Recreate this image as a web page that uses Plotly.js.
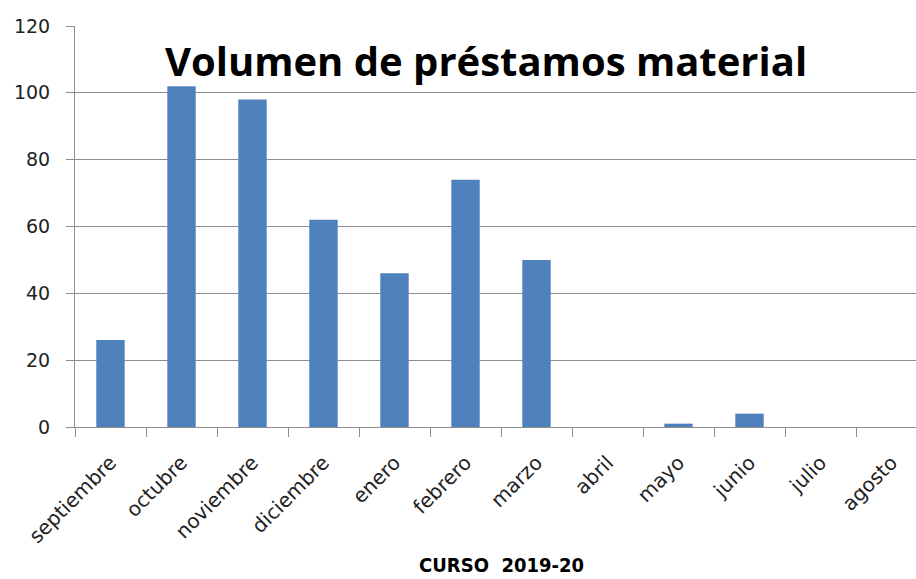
<!DOCTYPE html>
<html><head><meta charset="utf-8">
<script src="https://cdn.plot.ly/plotly-3.0.1.min.js"></script>
<style>html,body{margin:0;padding:0;overflow:hidden;background:#fff;}#chart{width:930px;height:579px;}</style>
</head><body><div id="chart"></div>
<script>
const months = ["septiembre","octubre","noviembre","diciembre","enero","febrero","marzo","abril","mayo","junio","julio","agosto"];
const loans = [26,102,98,62,46,74,50,0,1,4,0,0];
const yTicks = [0,20,40,60,80,100,120];
const chartTitle = "Volumen de préstamos material";
const xTitle = "CURSO  2019-20";

const grid = "#8e8e8e";
Plotly.newPlot("chart", [{
  type: "bar", x: months, y: loans,
  marker: {color: "#4f81bd"}, hoverinfo: "skip"
}], {
  width: 930, height: 579,
  margin: {l: 75, r: 3, t: 26, b: 152},
  paper_bgcolor: "#fff", plot_bgcolor: "#fff",
  bargap: 0.6, showlegend: false,
  font: {family: "DejaVu Sans, sans-serif", color: "#222"},
  title: {text: chartTitle, font: {family: "Open Sans, sans-serif", size: 40, weight: 700, color: "#000"},
          xref: "container", yref: "container", x: 486/930, xanchor: "center", y: 1 - 62/579, yanchor: "middle"},
  xaxis: {type: "category", tickson: "boundaries", ticks: "outside", ticklen: 9, tickcolor: grid,
          showline: true, linecolor: grid, linewidth: 1, tickangle: -45, showgrid: false,
          tickfont: {size: 20, color: "#222"}, ticklabelstandoff: 15, range: [-0.5, 11.5], fixedrange: true},
  yaxis: {range: [0, 120], tickvals: yTicks, ticks: "outside", ticklen: 8, tickcolor: grid,
          showline: true, linecolor: grid, showgrid: true, gridcolor: grid, gridwidth: 1,
          zeroline: false, tickfont: {size: 19, color: "#222"}, ticklabelstandoff: 12, fixedrange: true},
  annotations: [{text: "<b>" + xTitle + "</b>", xref: "paper", yref: "paper", x: 0.5, y: -(565-427)/401,
                 xanchor: "center", yanchor: "middle", showarrow: false,
                 font: {family: "DejaVu Sans Condensed, DejaVu Sans", size: 20, color: "#000"}}]
}, {staticPlot: true});
</script></body></html>
